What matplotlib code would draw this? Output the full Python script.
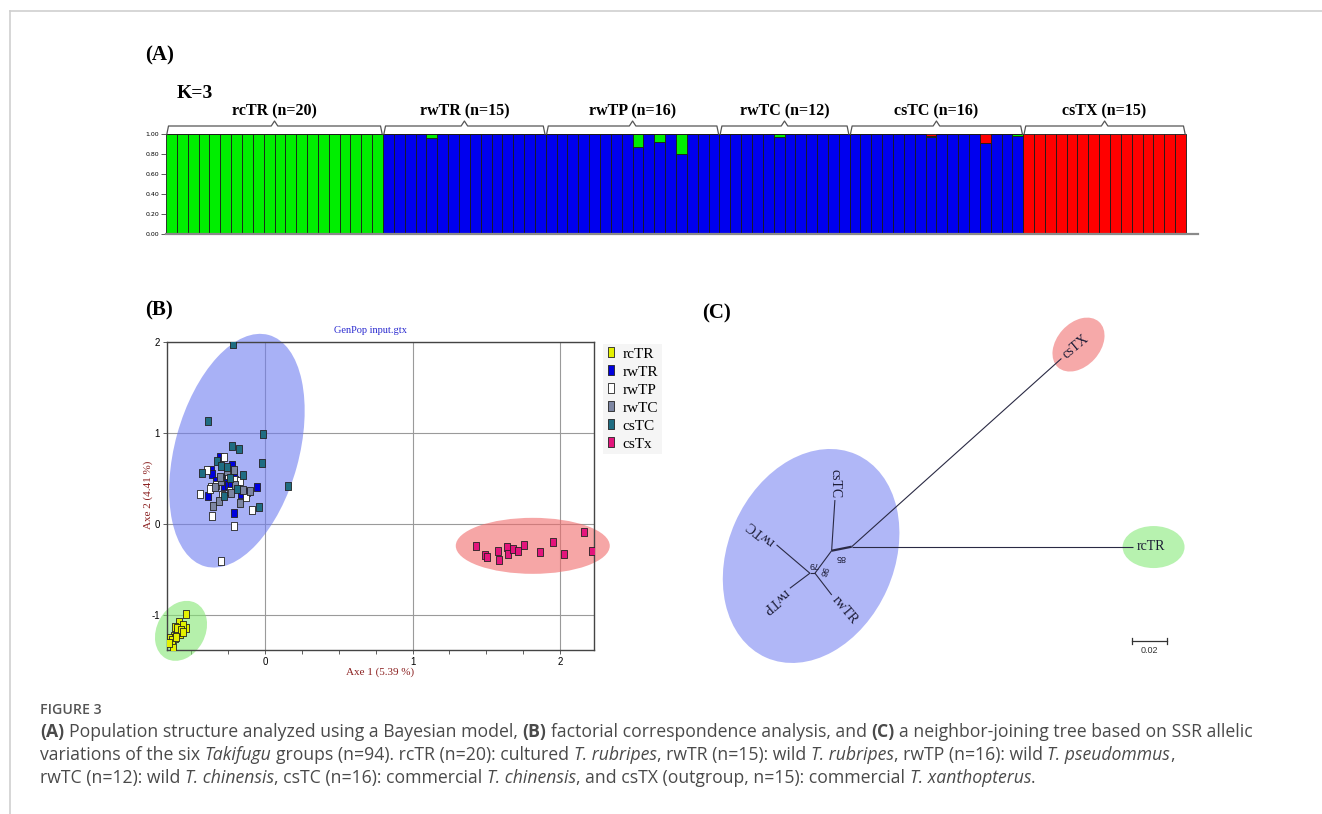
import math
import matplotlib
matplotlib.use("Agg")
import matplotlib.pyplot as plt
from matplotlib.patches import Ellipse
from matplotlib.lines import Line2D
from matplotlib.transforms import Affine2D
from matplotlib.ticker import MultipleLocator

# ---------------- data ----------------
# (A) STRUCTURE K=3 membership per individual
groups = ["rcTR", "rwTR", "rwTP", "rwTC", "csTC", "csTX"]
group_n = [20, 15, 16, 12, 16, 15]

q_blue = ([0.0] * 20
          + [1, 1, 1, 1, 0.96, 1, 1, 1, 1, 1, 1, 1, 1, 1, 1]
          + [1, 1, 1, 1, 1, 1, 1, 1, 0.87, 1, 0.92, 1, 0.80, 1, 1, 1]
          + [1, 1, 1, 1, 1, 0.97, 1, 1, 1, 1, 1, 1]
          + [1, 1, 1, 1, 1, 1, 1, 0.97, 1, 1, 1, 1, 0.91, 1, 1, 0.985]
          + [0, 0, 0, 0, 0, 0, 0, 0, 0.01, 0, 0, 0.01, 0, 0, 0])
q_green = ([1.0] * 20
           + [0, 0, 0, 0, 0.04, 0, 0, 0, 0, 0, 0, 0, 0, 0, 0]
           + [0, 0, 0, 0, 0, 0, 0, 0, 0.13, 0, 0.08, 0, 0.20, 0, 0, 0]
           + [0, 0, 0, 0, 0, 0.03, 0, 0, 0, 0, 0, 0]
           + [0, 0, 0, 0, 0, 0, 0, 0.01, 0, 0, 0, 0, 0, 0, 0, 0.015]
           + [0.0] * 15)
q_red = ([0.0] * 20
         + [0.0] * 15
         + [0.0] * 16
         + [0.0] * 12
         + [0, 0, 0, 0, 0, 0, 0, 0.02, 0, 0, 0, 0, 0.09, 0, 0, 0]
         + [1, 1, 1, 1, 1, 1, 1, 1, 0.99, 1, 1, 0.99, 1, 1, 1])
a_yticks = [0.0, 0.2, 0.4, 0.6, 0.8, 1.0]

# (B) factorial correspondence analysis
fca_labels = ["rcTR", "rwTR", "rwTP", "rwTC", "csTC", "csTx"]
rcTR_x = [-0.537, -0.580, -0.609, -0.535, -0.564, -0.587, -0.616, -0.643, -0.609, -0.576,
          -0.628, -0.621, -0.598, -0.553, -0.632, -0.594, -0.571, -0.648, -0.558, -0.603]
rcTR_y = [-0.985, -1.070, -1.125, -1.136, -1.143, -1.179, -1.223, -1.245, -1.253, -1.209,
          -1.289, -1.344, -1.187, -1.106, -1.271, -1.143, -1.161, -1.308, -1.179, -1.234]
rwTR_x = [-0.305, -0.368, -0.361, -0.332, -0.278, -0.226, -0.208, -0.248, -0.384, -0.208,
          -0.056, -0.124, -0.233, -0.255, -0.160]
rwTR_y = [0.740, 0.597, 0.549, 0.469, 0.414, 0.645, 0.560, 0.432, 0.311, 0.121,
          0.403, 0.348, 0.451, 0.520, 0.330]
rwTP_x = [-0.440, -0.395, -0.366, -0.373, -0.361, -0.210, -0.298, -0.278, -0.090, -0.129,
          -0.203, -0.253, -0.293, -0.332, -0.237, -0.170]
rwTP_y = [0.330, 0.597, 0.403, 0.380, 0.092, -0.018, -0.403, 0.736, 0.158, 0.293,
          0.487, 0.542, 0.322, 0.432, 0.360, 0.470]
rwTC_x = [-0.354, -0.309, -0.339, -0.298, -0.208, -0.203, -0.233, -0.169, -0.147, -0.102,
          -0.260, -0.305]
rwTC_y = [0.194, 0.249, 0.403, 0.469, 0.597, 0.425, 0.341, 0.231, 0.377, 0.359,
          0.580, 0.520]
csTC_x = [-0.214, -0.384, -0.016, -0.226, -0.174, -0.018, -0.327, -0.300, -0.424, -0.260,
          -0.151, 0.158, -0.038, -0.237, -0.275, -0.190]
csTC_y = [1.970, 1.128, 0.989, 0.861, 0.824, 0.670, 0.689, 0.634, 0.560, 0.626,
          0.538, 0.414, 0.187, 0.505, 0.304, 0.380]
csTx_x = [1.429, 1.492, 1.503, 1.576, 1.587, 1.643, 1.650, 1.684, 1.718, 1.756,
          1.865, 1.955, 2.027, 2.163, 2.214]
csTx_y = [-0.238, -0.337, -0.363, -0.300, -0.392, -0.253, -0.326, -0.275, -0.293, -0.227,
          -0.311, -0.198, -0.326, -0.088, -0.293]

# (C) neighbor-joining tree: parent, child, branch length, drawing angle (deg)
edge_parent = ["A", "A", "A", "B", "B", "C", "C", "D", "D"]
edge_child = ["csTX", "rcTR", "B", "csTC", "C", "rwTR", "D", "rwTC", "rwTP"]
edge_length = [0.161, 0.161, 0.0117, 0.029, 0.016, 0.0157, 0.0029, 0.025, 0.0143]
edge_angle = [41.9, 0.0, 191.3, 86.3, 233.5, -52.4, 180.0, 139.6, 216.9]
boot_node = ["B", "C", "D"]
boot_value = ["85", "98", "79"]
scale_len = 0.02

# ---------------- figure ----------------
W, H = 1322, 814
fig = plt.figure(figsize=(W / 100, H / 100), dpi=100)
SERIF = "Liberation Serif"


def fx(px):
    return px / W


def fy(py):
    return 1 - py / H


def box(l, t, r, b):
    return [fx(l), fy(b), (r - l) / W, (b - t) / H]


# page frame lines
fig.add_artist(Line2D([fx(9.5), fx(9.5)], [0, fy(11)], color="#cfcfcf", lw=1.2))
fig.add_artist(Line2D([fx(9.5), 1], [fy(11), fy(11)], color="#cfcfcf", lw=1.2))

# ---------------- (A) ----------------
ax_a = fig.add_axes(box(166, 134, 1198, 234))
n_tot = sum(group_n)
xs = list(range(n_tot))
bot2 = [b + g for b, g in zip(q_blue, q_green)]
kw = dict(width=1.0, edgecolor="#1a1a1a", linewidth=0.6)
ax_a.bar(xs, q_blue, color="#0000ee", **kw)
ax_a.bar(xs, q_green, bottom=q_blue, color="#00ee00", **kw)
ax_a.bar(xs, q_red, bottom=bot2, color="#ff0000", **kw)
ax_a.set_xlim(-0.5, -0.5 + 1032 / 10.851)
ax_a.set_ylim(0, 1)
ax_a.set_xticks([])
ax_a.set_yticks(a_yticks)
ax_a.set_yticklabels([f"{v:.2f}" for v in a_yticks],
                     family=["Liberation Sans Narrow", "DejaVu Sans"], fontsize=4.5)
ax_a.tick_params(axis="y", length=3.5, width=0.6, pad=1.5, color="#444")
for s in ["top", "right", "left"]:
    ax_a.spines[s].set_visible(False)
ax_a.spines["bottom"].set_color("#8a8a8a")
ax_a.spines["bottom"].set_linewidth(1.6)

start = 0
for name, n in zip(groups, group_n):
    x0, x1 = start - 0.42, start + n - 0.58
    xc = (x0 + x1) / 2
    ax_a.plot([x0, x0 + 0.15, xc - 0.3, xc, xc + 0.3, x1 - 0.15, x1],
              [1.0, 1.08, 1.08, 1.13, 1.08, 1.08, 1.0],
              color="#555555", lw=0.9, clip_on=False)
    ax_a.text(xc, 1.23, f"{name} (n={n})", ha="center", va="center",
              family=SERIF, fontweight="bold", fontsize=11.5)
    start += n

fig.text(fx(145), fy(55), "(A)", family=SERIF, fontweight="bold", fontsize=15,
         ha="left", va="center")
fig.text(fx(177), fy(93), "K=3", family=SERIF, fontweight="bold", fontsize=14,
         ha="left", va="center")

# ---------------- (B) ----------------
ax_b = fig.add_axes(box(166.7, 341.7, 594, 650))
xlim_b, ylim_b = (-0.666, 2.23), (-1.38, 2.0)
ax_b.set_xlim(*xlim_b)
ax_b.set_ylim(*ylim_b)
kx = (594 - 166.7) / (xlim_b[1] - xlim_b[0])
ky = (650 - 341.7) / (ylim_b[1] - ylim_b[0])
px_tr = Affine2D().scale(1 / kx, 1 / ky) + ax_b.transData

for (cx, cy, a, b, ang, col) in [(-0.19, 0.805, 120, 62, 74.6, "#6f7df0"),
                                 (-0.569, -1.17, 31.5, 24.2, 61.6, "#84e673"),
                                 (1.815, -0.238, 77, 28, 0, "#f06b6b")]:
    ax_b.add_patch(Ellipse((cx * kx, cy * ky), 2 * a, 2 * b, angle=ang,
                           transform=px_tr, facecolor=col, alpha=0.6,
                           edgecolor="none", zorder=2, clip_on=False))

rect = [(-0.32, -0.5), (0.32, -0.5), (0.32, 0.5), (-0.32, 0.5), (-0.32, -0.5)]
b_colors = ["#e4f000", "#0000dd", "#ffffff", "#7d86a2", "#1f6d82", "#e3157c"]
b_x = [rcTR_x, rwTR_x, rwTP_x, rwTC_x, csTC_x, csTx_x]
b_y = [rcTR_y, rwTR_y, rwTP_y, rwTC_y, csTC_y, csTx_y]
for xv, yv, col in zip(b_x, b_y, b_colors):
    ax_b.scatter(xv, yv, marker=rect, s=34, facecolor=col, edgecolor="#222222",
                 linewidth=0.6, zorder=3)

ax_b.set_xticks([0, 1, 2])
ax_b.set_yticks([-1, 0, 1, 2])
ax_b.set_yticklabels(["-1", "0", "1", "2"])
ax_b.xaxis.set_minor_locator(MultipleLocator(0.25))
ax_b.grid(True, which="major", color="#9a9a9a", lw=0.8, zorder=1)
ax_b.set_axisbelow(True)
ax_b.tick_params(which="both", length=3, width=0.6, labelsize=7, pad=2, color="#444")
for lab in ax_b.get_xticklabels() + ax_b.get_yticklabels():
    lab.set_family("Liberation Sans")
for s in ax_b.spines.values():
    s.set_color("#444444")
    s.set_linewidth(1.0)

fig.text(fx(370), fy(330), "GenPop input.gtx", family=SERIF, fontsize=7.5,
         color="#2b2bd0", ha="center", va="center")
fig.text(fx(380), fy(672), "Axe 1 (5.39 %)", family=SERIF, fontsize=8,
         color="#8b2020", ha="center", va="center")
fig.text(fx(148), fy(495), "Axe 2 (4.41 %)", family=SERIF, fontsize=8,
         color="#8b2020", ha="center", va="center", rotation=90)
fig.text(fx(145), fy(310), "(B)", family=SERIF, fontweight="bold", fontsize=15,
         ha="left", va="center")

handles = [Line2D([], [], ls="none", marker=rect, ms=7, mfc=c, mec="#222222", mew=0.6)
           for c in b_colors]
leg = ax_b.legend(handles, fca_labels, loc="upper left",
                  bbox_to_anchor=(fx(603), fy(344)), bbox_transform=fig.transFigure,
                  prop={"family": SERIF, "size": 11}, frameon=True, fancybox=False,
                  handlelength=0.6, handletextpad=0.5, labelspacing=0.28,
                  borderpad=0.2, borderaxespad=0)
leg.get_frame().set_facecolor("#f3f3f3")
leg.get_frame().set_edgecolor("none")

# ---------------- (C) ----------------
ax_c = fig.add_axes(box(700, 300, 1200, 680))
ax_c.set_xlim(-0.08669, 0.19903)
ax_c.set_ylim(-0.07617, 0.14097)
ax_c.axis("off")

ax_c.add_patch(Ellipse((-0.0232, -0.0053), 0.127, 0.0949, angle=66,
                       facecolor="#b0b7f7", edgecolor="none", zorder=1))
ax_c.add_patch(Ellipse((0.1296, 0.1155), 0.035, 0.0247, angle=48,
                       facecolor="#f6a9a9", edgecolor="none", zorder=1))
ax_c.add_patch(Ellipse((0.1725, -0.0002), 0.0354, 0.024, angle=0,
                       facecolor="#b7f2af", edgecolor="none", zorder=1))

pos = {"A": (0.0, 0.0)}
for p, c, ln, ang in zip(edge_parent, edge_child, edge_length, edge_angle):
    x0, y0 = pos[p]
    x1 = x0 + ln * math.cos(math.radians(ang))
    y1 = y0 + ln * math.sin(math.radians(ang))
    pos[c] = (x1, y1)
    ax_c.plot([x0, x1], [y0, y1], color="#2a2a44", lw=1.6 if c == "B" else 0.8,
              zorder=2, solid_capstyle="butt")

tip_rot = {"csTX": 40, "rcTR": 0, "rwTR": -50, "rwTC": 142, "rwTP": 220}
for c, ang in zip(edge_child, edge_angle):
    if c in tip_rot:
        x, y = pos[c]
        g = 0.002
        ax_c.text(x + g * math.cos(math.radians(ang)), y + g * math.sin(math.radians(ang)),
                  c, rotation=tip_rot[c], rotation_mode="anchor", ha="left", va="center",
                  family=SERIF, fontsize=10, color="#1c1c36", zorder=3)
x, y = pos["csTC"]
ax_c.text(x, y + 0.001, "csTC", rotation=-90, rotation_mode="anchor", ha="right",
          va="center", family=SERIF, fontsize=10, color="#1c1c36", zorder=3)

boot_off = {"B": (0.005, -0.0036, 180), "C": (0.0049, 0.0007, 250), "D": (0.0019, 0.0049, 180)}
for nd, val in zip(boot_node, boot_value):
    dx, dy, rot = boot_off[nd]
    ax_c.text(pos[nd][0] + dx, pos[nd][1] + dy, val, rotation=rot, ha="center",
              va="center", family="Liberation Sans", fontsize=6.5, color="#1c1c36", zorder=3)

sb_x0, sb_y = 0.16, -0.0537
ax_c.plot([sb_x0, sb_x0 + scale_len], [sb_y, sb_y], color="#333", lw=0.9)
for xe in [sb_x0, sb_x0 + scale_len]:
    ax_c.plot([xe, xe], [sb_y - 0.0018, sb_y + 0.0018], color="#333", lw=0.9)
ax_c.text(sb_x0 + scale_len / 2, sb_y - 0.0055, f"{scale_len:.2f}", ha="center",
          va="center", family="Liberation Sans", fontsize=6.5, color="#333")

fig.text(fx(702), fy(313), "(C)", family=SERIF, fontweight="bold", fontsize=15,
         ha="left", va="center")

# ---------------- caption ----------------
cap_color = "#4a4a4a"
cap_size = 12.7
fig.text(fx(40), fy(710), "FIGURE 3", family="Open Sans", fontweight="semibold",
         fontsize=10.2, color="#555555", ha="left", va="center")

cap_lines = [
    [("(A)", "b"), (" Population structure analyzed using a Bayesian model,", "n"),
     (" (B)", "b"), (" factorial correspondence analysis, and", "n"), (" (C)", "b"),
     (" a neighbor-joining tree based on SSR allelic", "n")],
    [("variations of the six", "n"), (" Takifugu", "i"),
     (" groups (n=94). rcTR (n=20): cultured", "n"), (" T. rubripes", "i"),
     (", rwTR (n=15): wild", "n"), (" T. rubripes", "i"), (", rwTP (n=16): wild", "n"),
     (" T. pseudommus", "i"), (",", "n")],
    [("rwTC (n=12): wild", "n"), (" T. chinensis", "i"),
     (", csTC (n=16): commercial", "n"), (" T. chinensis", "i"),
     (", and csTX (outgroup, n=15): commercial", "n"), (" T. xanthopterus", "i"),
     (".", "n")],
]
cap_y = [732, 755, 778]

renderer = fig.canvas.get_renderer()


def run_width(s, **kw):
    t = fig.text(0, 0, s, fontsize=cap_size, family="Open Sans", **kw)
    w = t.get_window_extent(renderer=renderer).width
    t.remove()
    return w


space_w = run_width("a a") - run_width("aa")
for line, yp in zip(cap_lines, cap_y):
    xp = 40
    for txt, st in line:
        if txt.startswith(" "):
            xp += space_w
            txt = txt[1:]
        kw = {}
        if st == "b":
            kw["fontweight"] = "bold"
        if st == "i":
            kw["fontstyle"] = "italic"
        t = fig.text(fx(xp), fy(yp), txt, fontsize=cap_size, family="Open Sans",
                     color=cap_color, ha="left", va="center", **kw)
        xp += t.get_window_extent(renderer=renderer).width

fig.savefig("out.png", dpi=100, facecolor="white")
